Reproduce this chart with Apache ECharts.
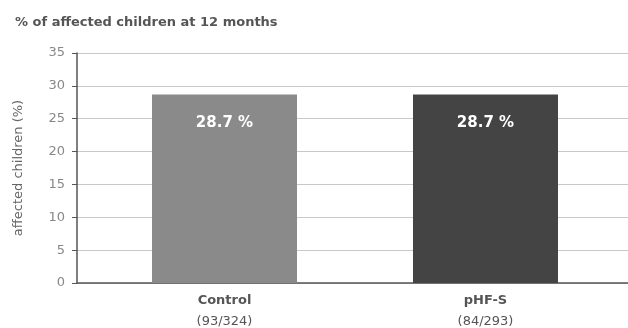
<!DOCTYPE html>
<html>
<head>
<meta charset="utf-8">
<script src="https://cdn.jsdelivr.net/npm/echarts@6/dist/echarts.min.js"></script>
<style>
  html, body { margin: 0; padding: 0; background: #fff; }
  #chart { width: 628px; height: 328px; }
</style>
</head>
<body>
<div id="chart"></div>
<script>
// Share of children affected at 12 months, per feeding group
const groups = ['Control', 'pHF-S'];
const counts = ['(93/324)', '(84/293)'];
const percents = [28.7, 28.7];
const barColors = ['#8a8a8a', '#444444'];
const yTicks = [0, 5, 10, 15, 20, 25, 30, 35];

const chart = echarts.init(document.getElementById('chart'));
const font = 'DejaVu Sans, Verdana, sans-serif';

chart.setOption({
  animation: false,
  title: {
    text: '% of affected children at 12 months',
    left: 10, top: 11,
    textStyle: { fontFamily: font, fontSize: 13, fontWeight: 'bold', color: '#555' }
  },
  grid: [
    // frame: y axis, gridlines and baseline
    { left: 77, right: 0, top: 53, bottom: 45, outerBoundsMode: 'none' },
    // bars and category labels
    { left: 94, right: 12, top: 53, bottom: 45, outerBoundsMode: 'none' }
  ],
  xAxis: [
    {
      type: 'category', gridIndex: 0, data: groups,
      axisLine: { lineStyle: { color: '#555', width: 1.5 } },
      axisTick: { show: false }, axisLabel: { show: false }
    },
    {
      type: 'category', gridIndex: 1, data: groups,
      axisLine: { show: false }, axisTick: { show: false },
      axisLabel: {
        margin: 7,
        formatter: (v, i) => '{b|' + v + '}\n{n|' + counts[i] + '}',
        rich: {
          b: { fontFamily: font, fontSize: 13, fontWeight: 'bold', color: '#555', lineHeight: 21 },
          n: { fontFamily: font, fontSize: 13, color: '#555', lineHeight: 21 }
        }
      }
    }
  ],
  yAxis: [
    {
      type: 'value', gridIndex: 0, min: yTicks[0], max: yTicks[yTicks.length - 1], interval: 5,
      name: 'affected children (%)', nameLocation: 'middle', nameGap: 52, nameRotate: 90,
      nameTextStyle: { fontFamily: font, fontSize: 13, color: '#666' },
      axisLine: { show: true, lineStyle: { color: '#555', width: 1.5 } },
      axisTick: { show: true, length: 5, lineStyle: { color: '#555' } },
      axisLabel: { margin: 12, fontFamily: font, fontSize: 13, color: '#888' },
      splitLine: { lineStyle: { color: '#c8c8c8', width: 1.2 } }
    },
    {
      type: 'value', gridIndex: 1, min: yTicks[0], max: yTicks[yTicks.length - 1], interval: 5,
      show: false, splitLine: { show: false }
    }
  ],
  series: [{
    type: 'bar', xAxisIndex: 1, yAxisIndex: 1,
    barWidth: 145,
    data: percents.map((v, i) => ({ value: v, itemStyle: { color: barColors[i] } })),
    label: {
      show: true, position: 'insideTop', distance: 21,
      formatter: p => p.value + ' %',
      fontFamily: font, fontSize: 15, fontWeight: 'bold', color: '#fff'
    }
  }]
});
</script>
</body>
</html>
